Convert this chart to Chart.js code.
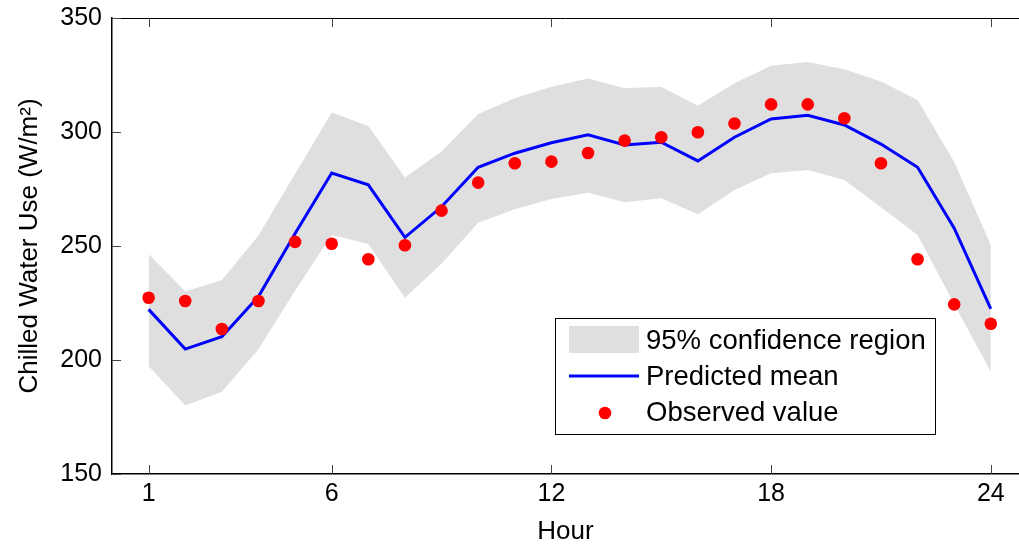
<!DOCTYPE html>
<html>
<head>
<meta charset="utf-8">
<script src="https://cdn.jsdelivr.net/npm/chart.js@4/dist/chart.umd.min.js"></script>
<style>
  html, body { margin: 0; padding: 0; background: #fff; overflow: hidden; }
  canvas { display: block; }
</style>
</head>
<body>
<canvas id="myChart" width="1019" height="545"></canvas>
<script>
// hourly values
const hours = [1, 2, 3, 4, 5, 6, 7, 8, 9, 10, 11, 12, 13, 14, 15, 16, 17, 18, 19, 20, 21, 22, 23, 24];
const observed = [227.3, 225.9, 213.6, 225.9, 251.8, 251.0, 244.2, 250.3, 265.5, 277.8, 286.3, 287.0,
  290.8, 296.2, 297.7, 299.9, 303.7, 312.1, 312.1, 306.0, 286.3, 244.2, 224.4, 215.9];
const predictedMean = [222.2, 204.8, 210.2, 227.8, 255.5, 282.0, 276.8, 253.8, 267.2, 284.5, 290.7, 295.3,
  298.8, 294.3, 295.5, 287.3, 297.7, 305.7, 307.3, 303.1, 294.7, 284.5, 257.8, 222.4];
const upperBound = [246.5, 230.0, 235.1, 254.6, 281.7, 308.5, 302.6, 280.0, 291.4, 307.9, 314.8, 319.9,
  323.5, 319.2, 319.9, 311.5, 321.4, 329.1, 330.7, 327.5, 322.1, 314.0, 287.0, 250.4];
const lowerBound = [197.4, 180.0, 186.1, 204.7, 230.4, 254.8, 250.9, 227.3, 242.2, 260.2, 266.1, 270.6,
  273.4, 269.2, 270.9, 263.9, 274.6, 281.9, 283.3, 279.0, 267.0, 254.8, 224.6, 194.9];
const xTicks = [1, 6, 12, 18, 24];
const yTicks = [150, 200, 250, 300, 350];

const legendItems = ['95% confidence region', 'Predicted mean', 'Observed value'];

const FONT = '"Liberation Sans", Arial, sans-serif';
const bandColor = 'rgb(223,223,223)';

const pts = arr => hours.map((h, i) => ({ x: h, y: arr[i] }));

// matlab-style inward ticks and top border
const axesBox = {
  id: 'axesBox',
  afterDraw(chart) {
    const { ctx, chartArea: a, scales } = chart;
    ctx.save();
    ctx.strokeStyle = '#000';
    ctx.lineWidth = 1;
    ctx.beginPath();
    ctx.moveTo(a.left, a.top + 0.5);
    ctx.lineTo(a.right, a.top + 0.5);
    ctx.stroke();
    ctx.strokeStyle = '#444';
    ctx.beginPath();
    xTicks.forEach(t => {
      const x = Math.round(scales.x.getPixelForValue(t)) + 0.5;
      ctx.moveTo(x, a.bottom);
      ctx.lineTo(x, a.bottom - 9);
      ctx.moveTo(x, a.top);
      ctx.lineTo(x, a.top + 9);
    });
    yTicks.forEach(t => {
      const y = Math.round(scales.y.getPixelForValue(t)) + 0.5;
      ctx.moveTo(a.left, y);
      ctx.lineTo(a.left + 9, y);
    });
    ctx.stroke();
    ctx.restore();
  }
};

const boxLegend = {
  id: 'boxLegend',
  afterDraw(chart) {
    const ctx = chart.ctx;
    ctx.save();
    ctx.fillStyle = '#fff';
    ctx.fillRect(555, 318, 380, 116);
    ctx.strokeStyle = '#000';
    ctx.lineWidth = 1;
    ctx.strokeRect(555.5, 318.5, 380, 116);

    ctx.fillStyle = bandColor;
    ctx.fillRect(569, 326, 70, 27);

    ctx.strokeStyle = '#0000ff';
    ctx.lineWidth = 3;
    ctx.beginPath();
    ctx.moveTo(569, 376);
    ctx.lineTo(639, 376);
    ctx.stroke();

    ctx.fillStyle = '#ff0000';
    ctx.beginPath();
    ctx.arc(605, 413, 6.3, 0, Math.PI * 2);
    ctx.fill();

    ctx.fillStyle = '#000';
    ctx.font = '27.5px ' + FONT;
    ctx.textBaseline = 'middle';
    ctx.textAlign = 'left';
    legendItems.forEach((t, i) => ctx.fillText(t, 646, 341 + i * 36));
    ctx.restore();
  }
};

const noPad = s => { s.paddingTop = 0; s.paddingBottom = 0; s.paddingLeft = 0; s.paddingRight = 0; };

new Chart(document.getElementById('myChart'), {
  type: 'line',
  data: {
    datasets: [
      {
        label: 'Observed value',
        data: pts(observed),
        showLine: false,
        pointRadius: 6.3,
        pointBackgroundColor: '#ff0000',
        pointBorderWidth: 0,
        borderColor: '#ff0000',
        order: 1
      },
      {
        label: 'Predicted mean',
        data: pts(predictedMean),
        borderColor: '#0000ff',
        borderWidth: 3,
        pointRadius: 0,
        fill: false,
        order: 2
      },
      {
        label: '95% confidence region',
        data: pts(upperBound),
        borderWidth: 0,
        borderColor: bandColor,
        backgroundColor: bandColor,
        pointRadius: 0,
        fill: '+1',
        order: 3
      },
      {
        label: 'lower',
        data: pts(lowerBound),
        borderWidth: 0,
        borderColor: bandColor,
        pointRadius: 0,
        fill: false,
        order: 4
      }
    ]
  },
  options: {
    responsive: false,
    animation: false,
    devicePixelRatio: 1,
    layout: { autoPadding: false, padding: { top: 18, right: 0, left: 0, bottom: 0 } },
    plugins: {
      legend: { display: false },
      tooltip: { enabled: false }
    },
    scales: {
      x: {
        type: 'linear',
        min: 0,
        max: 24.77,
        afterBuildTicks: s => { s.ticks = xTicks.map(v => ({ value: v })); },
        afterFit: s => { s.height = 71; noPad(s); },
        grid: { display: false, drawTicks: false },
        border: { display: true, color: '#000', width: 1.5 },
        ticks: { color: '#000', padding: 5, font: { family: FONT, size: 25 } },
        title: {
          display: true,
          text: 'Hour',
          color: '#000',
          padding: { top: 0, bottom: 0 },
          font: { family: FONT, size: 26, lineHeight: 1 }
        }
      },
      y: {
        min: 150,
        max: 350,
        afterBuildTicks: s => { s.ticks = yTicks.map(v => ({ value: v })); },
        afterFit: s => { s.width = 112; noPad(s); },
        grid: { display: false, drawTicks: false },
        border: { display: true, color: '#000', width: 1.5 },
        ticks: { color: '#000', padding: 10, font: { family: FONT, size: 25 } },
        title: {
          display: true,
          text: 'Chilled Water Use (W/m²)',
          color: '#000',
          padding: { top: 14, bottom: 0 },
          font: { family: FONT, size: 26 }
        }
      }
    }
  },
  plugins: [axesBox, boxLegend]
});
</script>
</body>
</html>
